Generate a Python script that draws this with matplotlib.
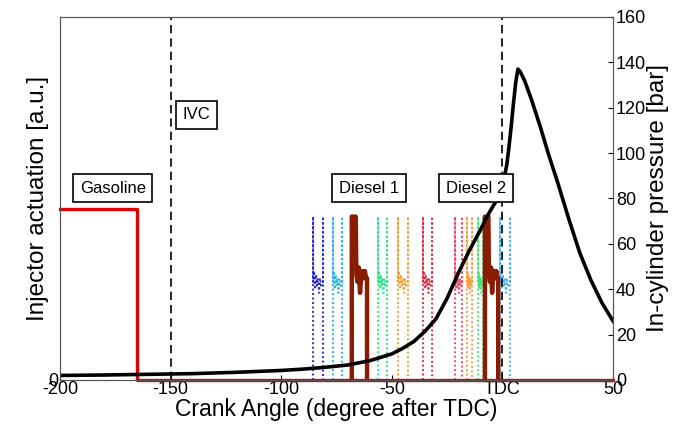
import matplotlib.pyplot as plt
import numpy as np

plt.rcParams['font.family'] = ['Liberation Sans', 'DejaVu Sans']

# ---- in-cylinder pressure trace (bar) ----
ca_p = [-200, -180, -160, -140, -120, -100, -90, -80, -70, -60, -50, -45, -40,
        -35, -30, -25, -20, -15, -10, -7, -4, -2, 0, 2, 3, 4, 5, 6, 7, 8,
        10, 13, 17, 21, 25, 30, 35, 40, 45, 50]
p_cyl = [2.0, 2.2, 2.5, 2.8, 3.4, 4.2, 4.8, 5.6, 6.6, 8.5, 11.5, 14, 17,
         21.5, 27, 36, 47, 57, 66, 72, 77, 80, 85, 95, 103, 112, 122, 131, 137, 136,
         132, 124, 112, 99, 87, 71, 56, 44, 34, 26]

# ---- gasoline injector command ----
ca_gas = [-200, -165, -165, 50]
gas_cmd = [0.47, 0.47, 0.0, 0.0]

# ---- diesel injector traces (start / end of each pulse, deg) ----
diesel_on = [-68.1, -7.9]
diesel_off = [-61.2, -1.9]

# shape of a measured diesel pulse: fraction of pulse width, level
shape_frac = [0.0, 0.0, 0.08, 0.26, 0.30, 0.38, 0.46, 0.54, 0.62, 0.70, 0.78,
              0.86, 0.94, 1.0, 1.0]
shape_lvl = [0.0, 0.45, 0.45, 0.45, 0.29, 0.27, 0.31, 0.24, 0.29, 0.30, 0.28,
             0.30, 0.28, 0.28, 0.0]

# other cycles, shown dotted
dot_on = [-85.6, -76.6, -56.2, -47.2, -35.9, -21.4, -16.0, -11.0, -1.1]
dot_off = [-81.1, -72.5, -52.2, -42.7, -31.8, -18.3, -13.7, -8.8, 3.4]
dot_colors = ['#2b2bd0', '#2fb4e0', '#2fe08c', '#f0a030', '#e03048',
              '#f04a6a', '#f4a040', '#4fe07c', '#40b4f0']
dot_frac = [0.0, 0.0, 0.0, 0.1, 0.2, 0.3, 0.4, 0.5, 0.6, 0.7, 0.8, 0.9, 1.0, 1.0, 1.0]
dot_lvl = [0.0, 0.45, 0.27, 0.30, 0.25, 0.29, 0.26, 0.28, 0.24, 0.28, 0.26, 0.27, 0.27, 0.45, 0.0]

# event labels (deg, a.u.)
lab_text = ['Gasoline', 'IVC', 'Diesel 1', 'Diesel 2']
lab_x = [-176.2, -138.3, -60.3, -11.9]
lab_y = [0.528, 0.73, 0.528, 0.528]

xticks = [-200, -150, -100, -50, 0, 50]
xticklabels = ['-200', '-150', '-100', '-50', 'TDC', '50']

fig = plt.figure(figsize=(6.86, 4.30), dpi=100)
ax1 = fig.add_axes([0.0875, 0.1163, 0.8061, 0.8442])
ax2 = ax1.twinx()

for a, b, c in zip(dot_on, dot_off, dot_colors):
    xs = [a + f * (b - a) for f in dot_frac]
    ax1.plot(xs, dot_lvl, color=c, lw=1.4, ls=(0, (1, 1.3)))

for a, b in zip(diesel_on, diesel_off):
    xs = [a + f * (b - a) for f in shape_frac]
    ax1.plot(xs, shape_lvl, '-', color='#8a1c02', lw=3.2)

ax1.plot(ca_gas, gas_cmd, '-', color='#e00000', lw=2.4, clip_on=False, zorder=5)

ax1.axvline(-150, color='k', lw=1.2, ls=(0, (5, 3)))
ax1.axvline(0, color='k', lw=1.2, ls=(0, (5, 3)))

ax1.set_xlim(-200, 50)
ax1.set_ylim(0, 1)
ax1.set_xticks(xticks)
ax1.set_xticklabels(xticklabels)
ax1.set_yticks([0])
ax1.tick_params(direction='in', labelsize=13, pad=1)
ax1.set_xlabel('Crank Angle (degree after TDC)', fontsize=16.5, labelpad=0)
ax1.set_ylabel('Injector actuation [a.u.]', fontsize=17.5, labelpad=0)

ax2.plot(ca_p, p_cyl, '-', color='k', lw=2.6)
ax2.set_ylim(0, 160)
ax2.set_yticks(range(0, 161, 20))
ax2.tick_params(direction='in', labelsize=13, pad=2)
ax2.set_ylabel('In-cylinder pressure [bar]', fontsize=17.5, labelpad=1)

for sp in ax1.spines.values():
    sp.set_color('#555555')
for sp in ax2.spines.values():
    sp.set_color('#555555')

# boxes go on the top axes so they cover the pressure curve
box = dict(boxstyle='square,pad=0.4', fc='white', ec='black', lw=1.2)
for t, x, y in zip(lab_text, lab_x, lab_y):
    ax2.text(x, y, t, fontsize=12, ha='center', va='center', bbox=box,
             transform=ax1.transData, zorder=10)

fig.savefig('out.png', dpi=100)
